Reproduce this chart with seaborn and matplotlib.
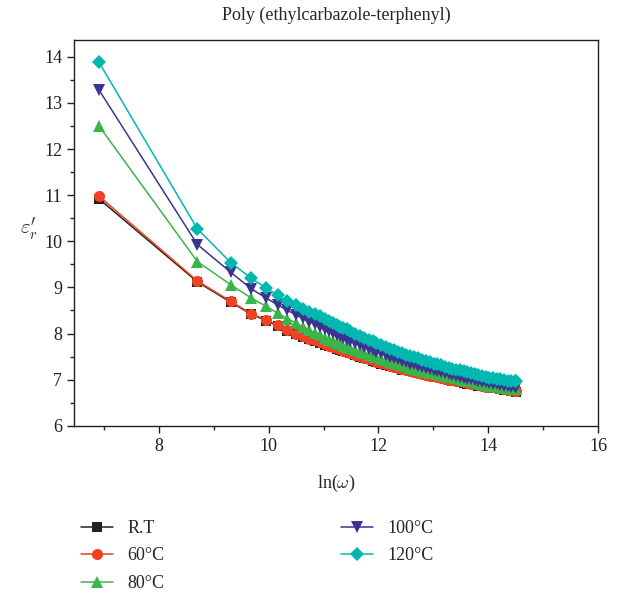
import numpy as np
import pandas as pd
import seaborn as sns
import matplotlib.pyplot as plt

# frequency in kHz (x axis is ln of the frequency as plotted in the source)
freq_khz = [1, 6, 11, 16, 21, 26, 31, 36, 41, 46, 51, 56, 61, 66, 71, 76,
            81, 86, 91, 96, 106, 116, 126, 136, 146, 156, 171, 186, 201, 216, 231,
            251, 271, 291, 311, 336, 361, 386, 416, 446, 476, 511, 546, 586, 626,
            671, 716, 766, 821, 876, 936, 1001, 1071, 1146, 1226, 1311, 1401, 1496,
            1601, 1711, 1831, 1956, 1996]

eps_rt = [10.92, 9.12, 8.68, 8.42, 8.28, 8.16, 8.06, 7.99, 7.93, 7.88, 7.84, 7.80,
          7.76, 7.73, 7.70, 7.67,
          7.65, 7.62, 7.59, 7.57, 7.53, 7.50, 7.46, 7.44, 7.41, 7.38, 7.35, 7.32,
          7.29, 7.27, 7.25, 7.22, 7.20, 7.18, 7.16, 7.14, 7.12, 7.10, 7.08, 7.06,
          7.05, 7.03, 7.01, 6.99, 6.98, 6.96, 6.95, 6.93, 6.91, 6.90, 6.89, 6.87,
          6.86, 6.84, 6.83, 6.82, 6.81, 6.80, 6.78, 6.77, 6.76, 6.75, 6.74]
eps_60 = [10.98, 9.14, 8.70, 8.43, 8.30, 8.18, 8.08, 8.00, 7.94, 7.89, 7.85, 7.81,
          7.77, 7.74, 7.71, 7.68,
          7.66, 7.63, 7.60, 7.58, 7.54, 7.51, 7.47, 7.45, 7.42, 7.39, 7.36, 7.33,
          7.30, 7.28, 7.26, 7.23, 7.21, 7.19, 7.17, 7.15, 7.13, 7.11, 7.09, 7.07,
          7.06, 7.04, 7.02, 7.00, 6.99, 6.97, 6.96, 6.94, 6.92, 6.91, 6.90, 6.88,
          6.87, 6.85, 6.84, 6.83, 6.82, 6.81, 6.79, 6.78, 6.77, 6.76, 6.75]
eps_80 = [12.50, 9.56, 9.06, 8.77, 8.59, 8.44, 8.32, 8.23, 8.14, 8.07, 8.01, 7.96,
          7.91, 7.87, 7.83, 7.80,
          7.77, 7.74, 7.71, 7.69, 7.64, 7.60, 7.57, 7.54, 7.51, 7.49, 7.45, 7.42,
          7.39, 7.37, 7.34, 7.32, 7.29, 7.26, 7.24, 7.22, 7.19, 7.17, 7.15, 7.14,
          7.12, 7.10, 7.08, 7.06, 7.05, 7.03, 7.01, 6.99, 6.97, 6.96, 6.94, 6.92,
          6.90, 6.89, 6.87, 6.86, 6.85, 6.84, 6.82, 6.81, 6.80, 6.79, 6.79]
eps_100 = [13.28, 9.93, 9.33, 8.97, 8.77, 8.62, 8.50, 8.41, 8.33, 8.26, 8.21, 8.15,
           8.10, 8.05, 8.01, 7.97,
           7.94, 7.90, 7.87, 7.84, 7.79, 7.75, 7.71, 7.67, 7.64, 7.61, 7.57, 7.53,
           7.50, 7.47, 7.44, 7.41, 7.38, 7.35, 7.33, 7.30, 7.28, 7.25, 7.23, 7.20,
           7.18, 7.16, 7.14, 7.12, 7.10, 7.08, 7.06, 7.04, 7.02, 7.01, 6.99, 6.97,
           6.95, 6.94, 6.92, 6.91, 6.90, 6.89, 6.87, 6.86, 6.85, 6.84, 6.83]
eps_120 = [13.88, 10.27, 9.54, 9.20, 8.99, 8.83, 8.70, 8.61, 8.53, 8.47, 8.42, 8.37,
           8.32, 8.27, 8.23, 8.19,
           8.15, 8.12, 8.09, 8.06, 8.00, 7.95, 7.91, 7.87, 7.83, 7.79, 7.75, 7.71,
           7.67, 7.64, 7.61, 7.57, 7.54, 7.51, 7.49, 7.46, 7.43, 7.40, 7.38, 7.35,
           7.33, 7.31, 7.28, 7.26, 7.24, 7.22, 7.20, 7.18, 7.16, 7.14, 7.12, 7.10,
           7.08, 7.06, 7.04, 7.03, 7.02, 7.01, 6.99, 6.98, 6.97, 6.96, 6.96]

labels = ["R.T", "60°C", "80°C", "100°C", "120°C"]
colors = ["#231f20", "#ef4123", "#39b54a", "#3c3391", "#00b8b0"]
markers = ["s", "o", "^", "v", "D"]
sizes = {"s": 6.5, "o": 8.0, "^": 8.5, "v": 8.5, "D": 7.0}

ln_w = np.log(np.array(freq_khz) * 1000.0)
frames = []
for lab, vals in zip(labels, [eps_rt, eps_60, eps_80, eps_100, eps_120]):
    frames.append(pd.DataFrame({"ln_w": ln_w, "eps": vals, "T": lab}))
df = pd.concat(frames, ignore_index=True)

sns.set_theme(style="ticks")
plt.rcParams["font.family"] = ["Liberation Serif", "DejaVu Serif"]
plt.rcParams["mathtext.fontset"] = "cm"

fig = plt.figure(figsize=(6.21, 5.93), dpi=100)
ax = fig.add_axes([0.119, 0.282, 0.844, 0.651])

for lab, col, mk in zip(labels, colors, markers):
    sub = df[df["T"] == lab]
    sns.lineplot(data=sub, x="ln_w", y="eps", color=col, marker=mk,
                 markersize=sizes[mk], markeredgewidth=0,
                 linewidth=1.1, ax=ax, label=lab, sort=True)

ax.set_xlim(6.45, 16)
ax.set_ylim(6, 14.37)
ax.set_xticks([8, 10, 12, 14, 16])
ax.set_xticks([7, 9, 11, 13, 15], minor=True)
ax.set_yticks(range(6, 15))
ax.set_yticks(np.arange(6.5, 14.5, 1.0), minor=True)
ax.tick_params(which="major", direction="out", length=5, width=1, labelsize=13, colors="#231f20")
ax.tick_params(which="minor", direction="out", length=3, width=1)
for s in ax.spines.values():
    s.set_linewidth(1.0)
    s.set_color("#231f20")

ax.set_title("Poly (ethylcarbazole-terphenyl)", fontsize=13, pad=14)
ax.set_xlabel(r"ln($\omega$)", fontsize=13, labelpad=13)
ax.set_ylabel(r"$\varepsilon^{\prime}_{r}$", fontsize=15, rotation=0)
ax.yaxis.set_label_coords(-0.085, 0.475)

ax.legend(loc="upper left", bbox_to_anchor=(-0.017, -0.202), ncol=2, frameon=False,
          fontsize=13, handlelength=1.75, columnspacing=9.8, labelspacing=0.58,
          handletextpad=0.8)

fig.savefig("out.png", dpi=100)
